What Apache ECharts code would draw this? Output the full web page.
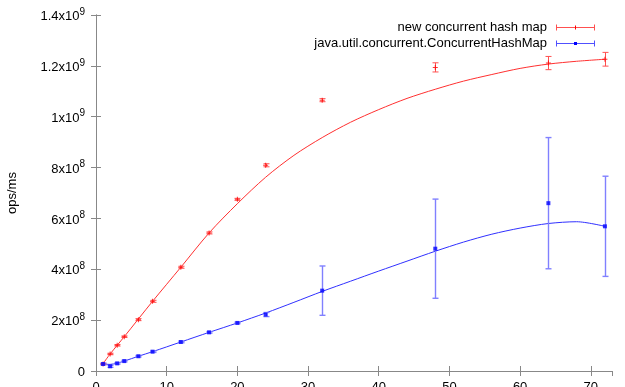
<!DOCTYPE html>
<html>
<head>
<meta charset="utf-8">
<script src="https://cdn.jsdelivr.net/npm/echarts@6/dist/echarts.min.js"></script>
<style>
html,body{margin:0;padding:0;background:#fff;}
#c{width:625px;height:387px;}
</style>
</head>
<body>
<div id="c"></div>
<script>
// ---- data ----
const threads = [1, 2, 3, 4, 6, 8, 12, 16, 20, 24, 32, 48, 64, 72];
const newMapMean = [2.75e7, 6.7e7, 1.01e8, 1.35e8, 2.02e8, 2.74e8, 4.08e8, 5.43e8, 6.75e8, 8.09e8, 1.065e9, 1.194e9, 1.211e9, 1.226e9];
const newMapErr  = [3e6, 3e6, 3e6, 3e6, 4e6, 4e6, 4e6, 4e6, 4e6, 6e6, 6e6, 1.8e7, 2.6e7, 2.7e7];
const chmMean    = [2.75e7, 1.85e7, 3.0e7, 3.9e7, 5.8e7, 7.6e7, 1.14e8, 1.52e8, 1.89e8, 2.22e8, 3.16e8, 4.81e8, 6.6e8, 5.69e8];
const chmErr     = [3e6, 4e6, 3e6, 3e6, 3e6, 3e6, 3e6, 3e6, 3e6, 8e6, 9.7e7, 1.95e8, 2.58e8, 1.97e8];
// fitted curves
const newFitX = [1, 2, 4, 8, 12, 16, 20, 24, 28, 32, 36, 40, 44, 48, 52, 56, 60, 64, 68, 72];
const newFitY = [2.9e7, 6.7e7, 1.35e8, 2.74e8, 4.08e8, 5.43e8, 6.58e8, 7.62e8, 8.48e8, 9.18e8, 9.78e8, 1.028e9, 1.072e9, 1.108e9, 1.14e9, 1.166e9, 1.19e9, 1.207e9, 1.218e9, 1.226e9];
const chmFitX = [1, 2, 3, 4, 6, 8, 12, 16, 20, 24, 28, 32, 36, 40, 44, 48, 52, 56, 60, 64, 68, 72];
const chmFitY = [2.75e7, 2.6e7, 3.1e7, 3.9e7, 5.8e7, 7.6e7, 1.14e8, 1.52e8, 1.89e8, 2.28e8, 2.7e8, 3.13e8, 3.53e8, 3.93e8, 4.32e8, 4.71e8, 5.07e8, 5.38e8, 5.62e8, 5.8e8, 5.87e8, 5.69e8];
const legendNames = ['new concurrent hash map', 'java.util.concurrent.ConcurrentHashMap'];
const yTicks = [0, 2e8, 4e8, 6e8, 8e8, 1e9, 1.2e9, 1.4e9];
const xTicks = [0, 10, 20, 30, 40, 50, 60, 70];

const RED = '#ff0000', BLUE = '#0000ff';
const FONT = '"Liberation Sans", Arial, sans-serif';

function zip(a, b) { return a.map((v, i) => [v, b[i]]); }
function errData(m, e) { return threads.map((x, i) => [x, m[i] - e[i], m[i] + e[i]]); }

function errRender(color, width) {
  return function (params, api) {
    const x = api.value(0), lo = api.value(1), hi = api.value(2);
    const a = api.coord([x, lo]), b = api.coord([x, hi]);
    const cx = Math.round(a[0]) + 0.5;
    const st = { stroke: color, lineWidth: width };
    return {
      type: 'group',
      children: [
        { type: 'line', shape: { x1: cx, y1: a[1], x2: cx, y2: b[1] }, style: st },
        { type: 'line', shape: { x1: cx - 3, y1: a[1], x2: cx + 3, y2: a[1] }, style: st },
        { type: 'line', shape: { x1: cx - 3, y1: b[1], x2: cx + 3, y2: b[1] }, style: st }
      ]
    };
  };
}

function yFmt(v) {
  if (v === 0) return '{m|0}';
  const e = Math.floor(Math.log10(v) + 1e-9);
  const m = Math.round(v / Math.pow(10, e) * 10) / 10;
  return '{m|' + m + 'x10}{s|' + e + '}';
}

const plusPath = 'path://M2,0 L3,0 L3,2 L5,2 L5,3 L3,3 L3,5 L2,5 L2,3 L0,3 L0,2 L2,2 Z';

const axisLineStyle = { color: '#888', width: 1 };

const option = {
  animation: false,
  backgroundColor: '#fff',
  grid: { left: 96, right: 13, top: 15, bottom: 16, containLabel: false, outerBoundsMode: 'none' },
  xAxis: [
    {
      type: 'value', min: 0, max: 73, interval: 10,
      axisLine: { show: true, lineStyle: axisLineStyle },
      axisTick: { show: true, inside: true, length: 5, lineStyle: axisLineStyle },
      splitLine: { show: false },
      axisLabel: {
        margin: 10, fontSize: 13, color: '#000', fontFamily: FONT,
        showMaxLabel: false,
        formatter: v => (xTicks.indexOf(v) >= 0 ? String(v) : '')
      }
    },
    {
      type: 'value', min: 0, max: 73, interval: 10, position: 'top',
      axisLine: { show: true, lineStyle: axisLineStyle },
      axisTick: { show: true, inside: true, length: 5, lineStyle: axisLineStyle },
      axisLabel: { show: false }, splitLine: { show: false }
    }
  ],
  yAxis: [
    {
      type: 'value', min: 0, max: 1.4e9, interval: 2e8,
      name: 'ops/ms', nameLocation: 'middle', nameGap: 77, nameRotate: 90,
      nameTextStyle: { fontSize: 13, color: '#000', fontFamily: FONT },
      axisLine: { show: true, lineStyle: axisLineStyle },
      axisTick: { show: true, inside: true, length: 5, lineStyle: axisLineStyle },
      splitLine: { show: false },
      axisLabel: {
        margin: 11, fontSize: 13, color: '#000', fontFamily: FONT,
        formatter: yFmt,
        rich: {
          m: { fontSize: 13, color: '#000', fontFamily: FONT, lineHeight: 16, verticalAlign: 'bottom' },
          s: { fontSize: 10, color: '#000', fontFamily: FONT, lineHeight: 12, verticalAlign: 'top' }
        }
      }
    },
    {
      type: 'value', min: 0, max: 1.4e9, interval: 2e8, position: 'right',
      axisLine: { show: true, lineStyle: axisLineStyle },
      axisTick: { show: true, inside: true, length: 5, lineStyle: axisLineStyle },
      axisLabel: { show: false }, splitLine: { show: false }
    }
  ],
  series: [
    {
      type: 'line', name: legendNames[0] + ' fit', data: zip(newFitX, newFitY),
      smooth: 0.3, showSymbol: false, lineStyle: { color: '#ff3030', width: 1 }, z: 2
    },
    {
      type: 'line', name: legendNames[1] + ' fit', data: zip(chmFitX, chmFitY),
      smooth: 0.3, showSymbol: false, lineStyle: { color: '#3030ff', width: 1 }, z: 2
    },
    {
      type: 'custom', name: legendNames[0] + ' err', data: errData(newMapMean, newMapErr),
      renderItem: errRender('#ff5050', 1), encode: { x: 0, y: [1, 2] }, z: 3
    },
    {
      type: 'custom', name: legendNames[1] + ' err', data: errData(chmMean, chmErr),
      renderItem: errRender('#8080ff', 1.4), encode: { x: 0, y: [1, 2] }, z: 3
    },
    {
      type: 'scatter', name: legendNames[0], data: zip(threads, newMapMean),
      symbol: plusPath, symbolSize: 5, itemStyle: { color: RED }, z: 4
    },
    {
      type: 'scatter', name: legendNames[1], data: zip(threads, chmMean),
      symbol: 'rect', symbolSize: 4, itemStyle: { color: BLUE }, z: 4
    }
  ],
  graphic: [
    { type: 'text', style: { text: legendNames[0], x: 547, y: 27, align: 'right', verticalAlign: 'middle', fontSize: 13, fontFamily: FONT, fill: '#000' } },
    { type: 'text', style: { text: legendNames[1], x: 547, y: 43, align: 'right', verticalAlign: 'middle', fontSize: 13, fontFamily: FONT, fill: '#000' } },
    { type: 'line', shape: { x1: 556, y1: 27.5, x2: 595, y2: 27.5 }, style: { stroke: '#ff5050', lineWidth: 1 } },
    { type: 'line', shape: { x1: 556.5, y1: 24.5, x2: 556.5, y2: 30.5 }, style: { stroke: '#ff5050', lineWidth: 1 } },
    { type: 'line', shape: { x1: 594.5, y1: 24.5, x2: 594.5, y2: 30.5 }, style: { stroke: '#ff5050', lineWidth: 1 } },
    { type: 'line', shape: { x1: 575.5, y1: 25.5, x2: 575.5, y2: 29.5 }, style: { stroke: RED, lineWidth: 1 } },
    { type: 'line', shape: { x1: 556, y1: 43.5, x2: 595, y2: 43.5 }, style: { stroke: '#5050ff', lineWidth: 1 } },
    { type: 'line', shape: { x1: 556.5, y1: 40.5, x2: 556.5, y2: 46.5 }, style: { stroke: '#5050ff', lineWidth: 1 } },
    { type: 'line', shape: { x1: 594.5, y1: 40.5, x2: 594.5, y2: 46.5 }, style: { stroke: '#5050ff', lineWidth: 1 } },
    { type: 'rect', shape: { x: 574, y: 42, width: 3, height: 3 }, style: { fill: BLUE } }
  ]
};

const chart = echarts.init(document.getElementById('c'), null, { renderer: 'canvas' });
chart.setOption(option);
</script>
</body>
</html>
